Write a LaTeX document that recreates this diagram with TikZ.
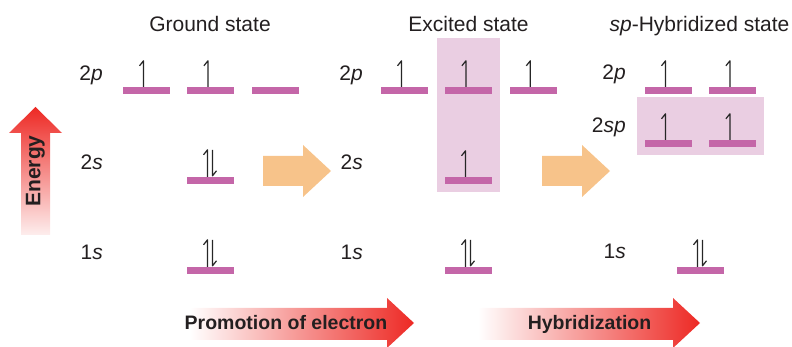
\documentclass[tikz,border=0pt]{standalone}
\usepackage{fontspec}
\setmainfont{Liberation Sans}
\usepackage{tikz}
\usetikzlibrary{positioning, backgrounds}
\definecolor{orbitalpink}{RGB}{196,102,168}
\definecolor{hilitepink}{RGB}{234,206,226}
\definecolor{promoorange}{RGB}{247,195,138}
\definecolor{energyred}{RGB}{237,41,36}
\definecolor{textdark}{RGB}{35,31,32}
\tikzset{
  orbital/.style={rectangle, fill=orbitalpink, minimum width=47pt, minimum height=7pt, inner sep=0pt},
  hilite/.style={rectangle, fill=hilitepink, inner sep=0pt},
  statetitle/.style={anchor=base, text=textdark, inner sep=0pt, font=\fontsize{21}{25}\selectfont},
  orblabel/.style={anchor=base east, text=textdark, inner sep=0pt, font=\fontsize{21}{25}\selectfont},
  steplabel/.style={anchor=base, text=textdark, inner sep=0pt, font=\fontsize{19.5}{23}\selectfont\bfseries},
  spin/.style={draw=black!85, line width=1.2pt, line join=round},
  promoarrow/.style={fill=promoorange},
  steparrow/.style={left color=white, right color=energyred},
  energyarrow/.style={top color=energyred, bottom color=energyred!8}
}
% electrons: single up spin, paired spins
\newcommand{\eup}[1]{\draw[spin] ([xshift=-3pt]#1.north) -- ++(0,26) -- ++(-4,-5);}
\newcommand{\epair}[1]{%
  \draw[spin] ([xshift=-3pt]#1.north) -- ++(0,27) -- ++(-4,-5);
  \draw[spin] ([xshift=2pt,yshift=27pt]#1.north) -- ++(0,-26) -- ++(4,5);}

\begin{document}
\begin{tikzpicture}[x=1pt, y=1pt]
  \useasboundingbox (0,0) rectangle (792,347);

  % state titles
  \node[statetitle] (gtitle) at (210,315) {Ground state};
  \node[statetitle] (etitle) at (468.5,315) {Excited state};
  \node[statetitle] (htitle) at (699.5,315) {\textit{sp}-Hybridized state};

  % highlight boxes
  \node[hilite, minimum width=63pt, minimum height=154pt] (ebox) at (468.5,232) {};
  \node[hilite, minimum width=127pt, minimum height=58pt] (hbox) at (700.5,221) {};

  % ground state
  \node[orblabel] (gl2p) at (103,266) {2\textit{p}};
  \node[orblabel] (gl2s) at (103,177) {2\textit{s}};
  \node[orblabel] (gl1s) at (103,87) {1\textit{s}};
  \node[orbital] (g2pa) at (146.5,256.5) {};
  \node[orbital, right=17pt of g2pa] (g2pb) {};
  \node[orbital, right=17pt of g2pb] (g2pc) {};
  \node[orbital] (g2s) at (210.5,166.5) {};
  \node[orbital] (g1s) at (210.5,76.5) {};
  \eup{g2pa} \eup{g2pb}
  \epair{g2s} \epair{g1s}

  % excited state
  \node[orblabel] (el2p) at (363,266) {2\textit{p}};
  \node[orblabel] (el2s) at (363,177) {2\textit{s}};
  \node[orblabel] (el1s) at (363,87) {1\textit{s}};
  \node[orbital] (e2pa) at (404.5,256.5) {};
  \node[orbital, right=17pt of e2pa] (e2pb) {};
  \node[orbital, right=17pt of e2pb] (e2pc) {};
  \node[orbital] (e2s) at (468.5,166.5) {};
  \node[orbital] (e1s) at (468.5,76.5) {};
  \eup{e2pa} \eup{e2pb} \eup{e2pc} \eup{e2s}
  \epair{e1s}

  % sp-hybridized state
  \node[orblabel] (hl2p) at (626,267) {2\textit{p}};
  \node[orblabel] (hl2sp) at (626,214) {2\textit{sp}};
  \node[orblabel] (hl1s) at (626,88) {1\textit{s}};
  \node[orbital] (h2pa) at (668.5,256.5) {};
  \node[orbital, right=17pt of h2pa] (h2pb) {};
  \node[orbital] (h2spa) at (668.5,203.5) {};
  \node[orbital, right=17pt of h2spa] (h2spb) {};
  \node[orbital] (h1s) at (700.5,76.5) {};
  \eup{h2pa} \eup{h2pb} \eup{h2spa} \eup{h2spb}
  \epair{h1s}

  % block arrows between states
  \fill[promoarrow] (263,161) -- (303,161) -- (303,150) -- (331,176) -- (303,202) -- (303,191) -- (263,191) -- cycle;
  \fill[promoarrow] (542,161) -- (582,161) -- (582,150) -- (610,176) -- (582,202) -- (582,191) -- (542,191) -- cycle;

  % energy axis
  \shade[energyarrow] (21,112) -- (21,214) -- (9,214) -- (35.5,240) -- (62,214) -- (50,214) -- (50,112) -- cycle;
  \node[text=textdark, rotate=90, inner sep=0pt, font=\fontsize{21}{25}\selectfont\bfseries] (energy) at (35.5,176) {Energy};

  % process arrows
  \shade[steparrow] (190,7) -- (387,7) -- (387,-1) -- (414,24) -- (387,49) -- (387,39) -- (190,39) -- cycle;
  \node[steplabel] (promo) at (286,17) {Promotion of electron};
  \shade[steparrow] (478,7) -- (673,7) -- (673,-1) -- (700,24) -- (673,49) -- (673,39) -- (478,39) -- cycle;
  \node[steplabel] (hybrid) at (589.5,17) {Hybridization};
\end{tikzpicture}
\end{document}
